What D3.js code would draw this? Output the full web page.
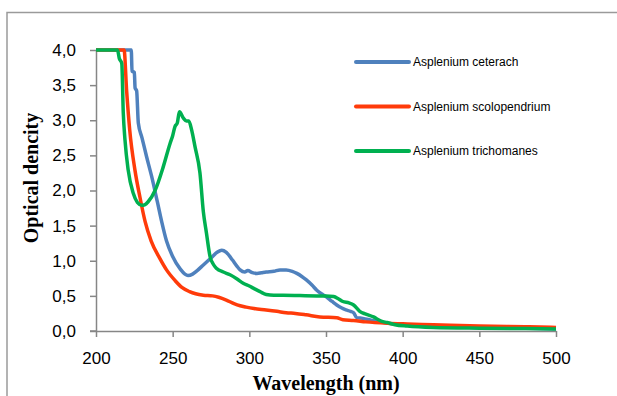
<!DOCTYPE html>
<html>
<head>
<meta charset="utf-8">
<script src="https://cdn.jsdelivr.net/npm/d3@7"></script>
<style>
  body { margin: 0; background: #fff; }
  svg { display: block; }
</style>
</head>
<body>
<svg id="chart"></svg>
<script>
// series names (legend order)
var seriesNames = ["Asplenium ceterach", "Asplenium scolopendrium", "Asplenium trichomanes"];
var seriesColors = ["#4f81bd", "#ff3b0a", "#00b050"];

// [wavelength nm, optical density]
var ceterach = [[200,4.0],[223,4.0],[223.5,3.7],[225,3.68],[225.5,3.46],[226.5,3.42],[227.6,2.96],[230,2.75],
  [233,2.48],[236.3,2.20],[240,1.84],[242.8,1.56],[246,1.28],[250,1.06],[255,0.88],[258,0.81],[260,0.79],
  [263,0.81],[266,0.86],[270,0.94],[275,1.04],[279,1.12],[282,1.15],[285,1.12],[289,1.01],[292,0.92],
  [294,0.87],[297,0.84],[299,0.86],[302,0.83],[305,0.82],[308,0.83],[311,0.84],[316,0.85],[320,0.87],
  [324,0.87],[328,0.85],[331,0.82],[334,0.78],[337,0.73],[341,0.65],[344,0.58],[347,0.53],[350,0.49],
  [354,0.42],[357,0.37],[360,0.33],[363,0.30],[366,0.28],[368,0.26],[370,0.19],[374,0.18],[380,0.15],
  [385,0.13],[394,0.10],[403,0.08],[420,0.06],[450,0.05],[480,0.04],[500,0.03]];

var scolopendrium = [[200,4.0],[218.3,4.0],[220,3.41],[222,2.86],[225.4,2.29],[228.7,1.90],[232,1.56],
  [236,1.28],[241.7,1.03],[246,0.87],[251.5,0.72],[256,0.62],[261,0.56],[265,0.53],[270,0.51],[276,0.50],
  [280,0.48],[285,0.44],[290,0.39],[294,0.36],[298,0.34],[303,0.32],[311,0.30],[318,0.28],[324,0.26],
  [330,0.25],[337,0.23],[346,0.20],[357,0.19],[361,0.16],[368,0.15],[376,0.13],[390,0.11],[403,0.10],
  [420,0.09],[450,0.07],[480,0.06],[500,0.05]];

var trichomanes = [[200,4.0],[214,4.0],[215.2,3.88],[216.8,3.81],[217.8,3.1],[218.9,2.72],[221,2.29],
  [224.3,1.96],[227,1.83],[229.8,1.79],[232,1.80],[234,1.84],[238.5,2.0],[243.9,2.34],[248.3,2.67],
  [250,2.78],[251.5,2.91],[253,2.96],[254.4,3.12],[257,3.03],[259,2.99],[260.5,2.99],[262.4,2.86],
  [264.6,2.62],[267.8,2.25],[270,1.70],[272,1.40],[274.4,1.06],[276.5,0.95],[278.7,0.89],[283,0.84],
  [287.4,0.80],[292,0.74],[296,0.68],[300,0.64],[302.6,0.61],[307,0.56],[311,0.52],[316,0.51],[322,0.51],
  [344,0.50],[350,0.50],[355,0.49],[358,0.46],[361,0.42],[365,0.40],[368,0.37],[372,0.28],[376,0.24],
  [381,0.20],[386,0.14],[390,0.12],[395,0.09],[403,0.07],[420,0.05],[450,0.04],[480,0.035],[500,0.03]];

var xTicks = [200, 250, 300, 350, 400, 450, 500];
var yTicks = [0, 0.5, 1, 1.5, 2, 2.5, 3, 3.5, 4];

var allSeries = [ceterach, scolopendrium, trichomanes];

// layout
var W = 617, H = 396;
var margin = {top: 50, right: 61, bottom: 65, left: 96};
var width = W - margin.left - margin.right,
    height = H - margin.top - margin.bottom;

var svg = d3.select("#chart")
    .attr("width", W)
    .attr("height", H);

// outer frame (runs off the right and bottom of the picture)
svg.append("rect")
    .attr("x", 7).attr("y", 12.5)
    .attr("width", 700).attr("height", 500)
    .attr("fill", "none")
    .attr("stroke", "#9a9a9a")
    .attr("stroke-width", 1.5);

var g = svg.append("g")
    .attr("transform", "translate(" + margin.left + "," + margin.top + ")");

var x = d3.scaleLinear().domain([200, 500]).range([0, width]);
var y = d3.scaleLinear().domain([0, 4]).range([height, 0]);

var fmt = function (d) { return d.toFixed(1).replace(".", ","); };

// y axis
var yAxis = g.append("g")
    .call(d3.axisLeft(y).tickValues(yTicks).tickFormat(fmt).tickSize(6).tickSizeOuter(0).tickPadding(14));

// x axis
var xAxis = g.append("g")
    .attr("transform", "translate(0," + height + ")")
    .call(d3.axisBottom(x).tickValues(xTicks).tickSize(6).tickSizeOuter(0).tickPadding(15));

[yAxis, xAxis].forEach(function (ax) {
  ax.select(".domain").attr("stroke", "#868686").attr("stroke-width", 1.5);
  ax.selectAll(".tick line").attr("stroke", "#868686").attr("stroke-width", 1.5);
  ax.selectAll(".tick text")
    .attr("fill", "#000")
    .style("font-family", "'Liberation Sans', Arial, sans-serif")
    .style("font-size", "17px");
});

// extend x-axis line left under the 0,0 tick like in the original
g.append("line")
    .attr("x1", -6).attr("x2", 0)
    .attr("y1", height).attr("y2", height)
    .attr("stroke", "#868686").attr("stroke-width", 1.5);

// lines
var line = d3.line()
    .x(function (d) { return x(d[0]); })
    .y(function (d) { return y(d[1]); })
    .curve(d3.curveMonotoneX);

g.selectAll(".series")
    .data(allSeries)
    .join("path")
      .attr("class", "series")
      .attr("d", line)
      .attr("fill", "none")
      .attr("stroke", function (d, i) { return seriesColors[i]; })
      .attr("stroke-width", 3.5)
      .attr("stroke-linejoin", "round");

// legend
var legend = svg.append("g").attr("transform", "translate(356,62)");
var item = legend.selectAll("g")
    .data(seriesNames)
    .join("g")
      .attr("transform", function (d, i) { return "translate(0," + (i * 44.5) + ")"; });
item.append("line")
    .attr("x1", 0).attr("x2", 53)
    .attr("stroke", function (d, i) { return seriesColors[i]; })
    .attr("stroke-width", 4)
    .attr("stroke-linecap", "round");
item.append("text")
    .attr("x", 57)
    .attr("y", 4)
    .style("font-family", "'Liberation Sans', Arial, sans-serif")
    .style("font-size", "12px")
    .text(function (d) { return d; });

// axis titles
svg.append("text")
    .attr("x", 326)
    .attr("y", 390)
    .attr("text-anchor", "middle")
    .style("font-family", "'Liberation Serif', 'Times New Roman', serif")
    .style("font-weight", "bold")
    .style("font-size", "20px")
    .text("Wavelength (nm)");

svg.append("text")
    .attr("transform", "translate(38,178) rotate(-90)")
    .attr("text-anchor", "middle")
    .style("font-family", "'Liberation Serif', 'Times New Roman', serif")
    .style("font-weight", "bold")
    .style("font-size", "20px")
    .text("Optical dencity");
</script>
</body>
</html>
